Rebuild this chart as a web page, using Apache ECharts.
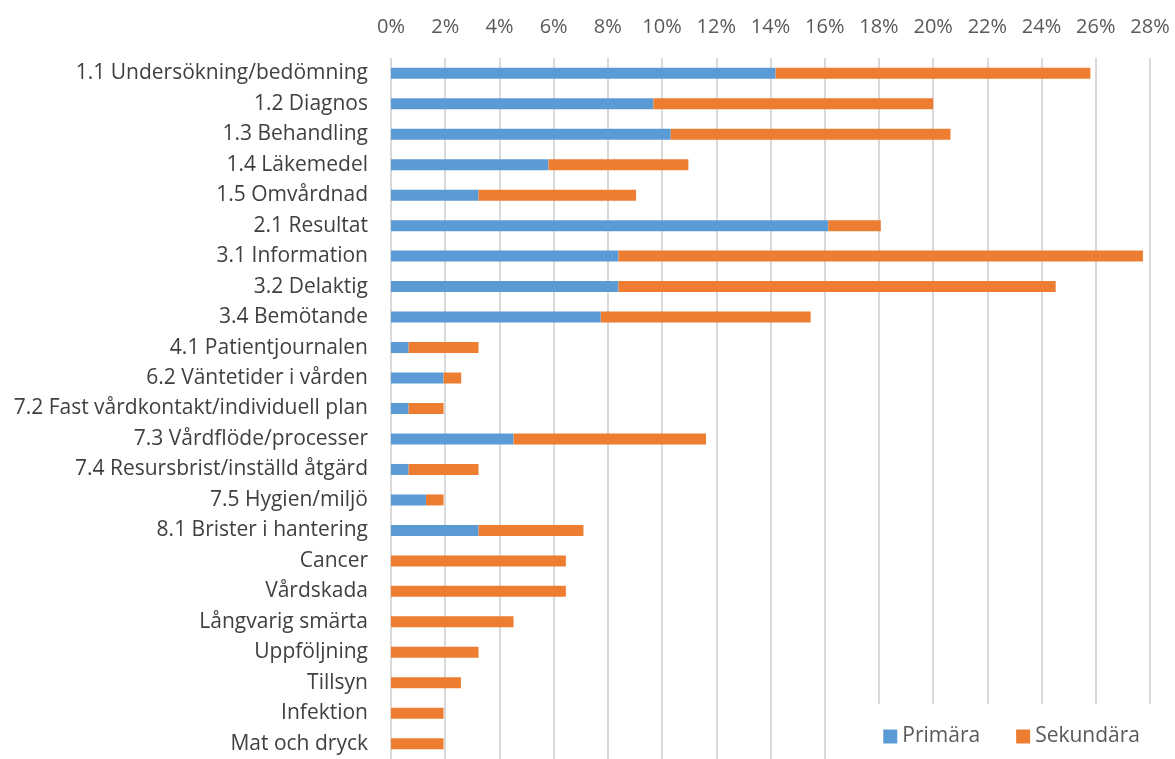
<!DOCTYPE html>
<html>
<head>
<meta charset="utf-8">
<script src="https://cdn.jsdelivr.net/npm/echarts@6/dist/echarts.min.js"></script>
<style>
  html, body { margin: 0; padding: 0; background: #fff; }
  #chart { width: 1175px; height: 759px; }
</style>
</head>
<body>
<div id="chart"></div>
<script>
// kategorier uppifrån och ned
const categories = [
  '1.1 Undersökning/bedömning', '1.2 Diagnos', '1.3 Behandling', '1.4 Läkemedel',
  '1.5 Omvårdnad', '2.1 Resultat', '3.1 Information', '3.2 Delaktig',
  '3.4 Bemötande', '4.1 Patientjournalen', '6.2 Väntetider i vården',
  '7.2 Fast vårdkontakt/individuell plan', '7.3 Vårdflöde/processer',
  '7.4 Resursbrist/inställd åtgärd', '7.5 Hygien/miljö', '8.1 Brister i hantering',
  'Cancer', 'Vårdskada', 'Långvarig smärta', 'Uppföljning', 'Tillsyn',
  'Infektion', 'Mat och dryck'
]
// andel i procent
const primara = [
  14.19, 9.68, 10.32, 5.81, 3.23, 16.13, 8.39, 8.39, 7.74, 0.65, 1.94,
  0.65, 4.52, 0.65, 1.29, 3.23, 0, 0, 0, 0, 0, 0, 0
]
const sekundara = [
  11.61, 10.32, 10.32, 5.16, 5.81, 1.94, 19.35, 16.13, 7.74, 2.58, 0.65,
  1.29, 7.10, 2.58, 0.65, 3.87, 6.45, 6.45, 4.52, 3.23, 2.58, 1.94, 1.94
]
const xTicks = { min: 0, max: 28, interval: 2 }

const font = 'Open Sans, Liberation Sans, sans-serif'
const chart = echarts.init(document.getElementById('chart'))
chart.setOption({
  animation: false,
  color: ['#5B9BD5', '#ED7D31'],
  textStyle: { fontFamily: font },
  grid: { left: 391, right: 25, top: 58, height: 706 },
  legend: {
    data: ['Primära', 'Sekundära'],
    right: 0, bottom: 0,
    itemWidth: 14, itemHeight: 14, itemGap: 36,
    icon: 'rect',
    backgroundColor: '#fff',
    padding: [22, 35, 12, 35],
    textStyle: { fontSize: 21, color: '#595959', fontFamily: font }
  },
  xAxis: {
    type: 'value',
    position: 'top',
    min: xTicks.min, max: xTicks.max, interval: xTicks.interval,
    axisLine: { show: false },
    axisTick: { show: false },
    axisLabel: { formatter: '{value}%', fontSize: 20, color: '#595959', margin: 21 },
    splitLine: { lineStyle: { color: '#D9D9D9', width: 2 } }
  },
  yAxis: {
    type: 'category',
    inverse: true,
    data: categories,
    axisLine: { show: false },
    axisTick: { show: false },
    axisLabel: { fontSize: 21, color: '#404040', margin: 23 }
  },
  series: [
    { name: 'Primära', type: 'bar', stack: 'a', barWidth: 11, data: primara },
    { name: 'Sekundära', type: 'bar', stack: 'a', barWidth: 11, data: sekundara }
  ]
})
</script>
</body>
</html>
